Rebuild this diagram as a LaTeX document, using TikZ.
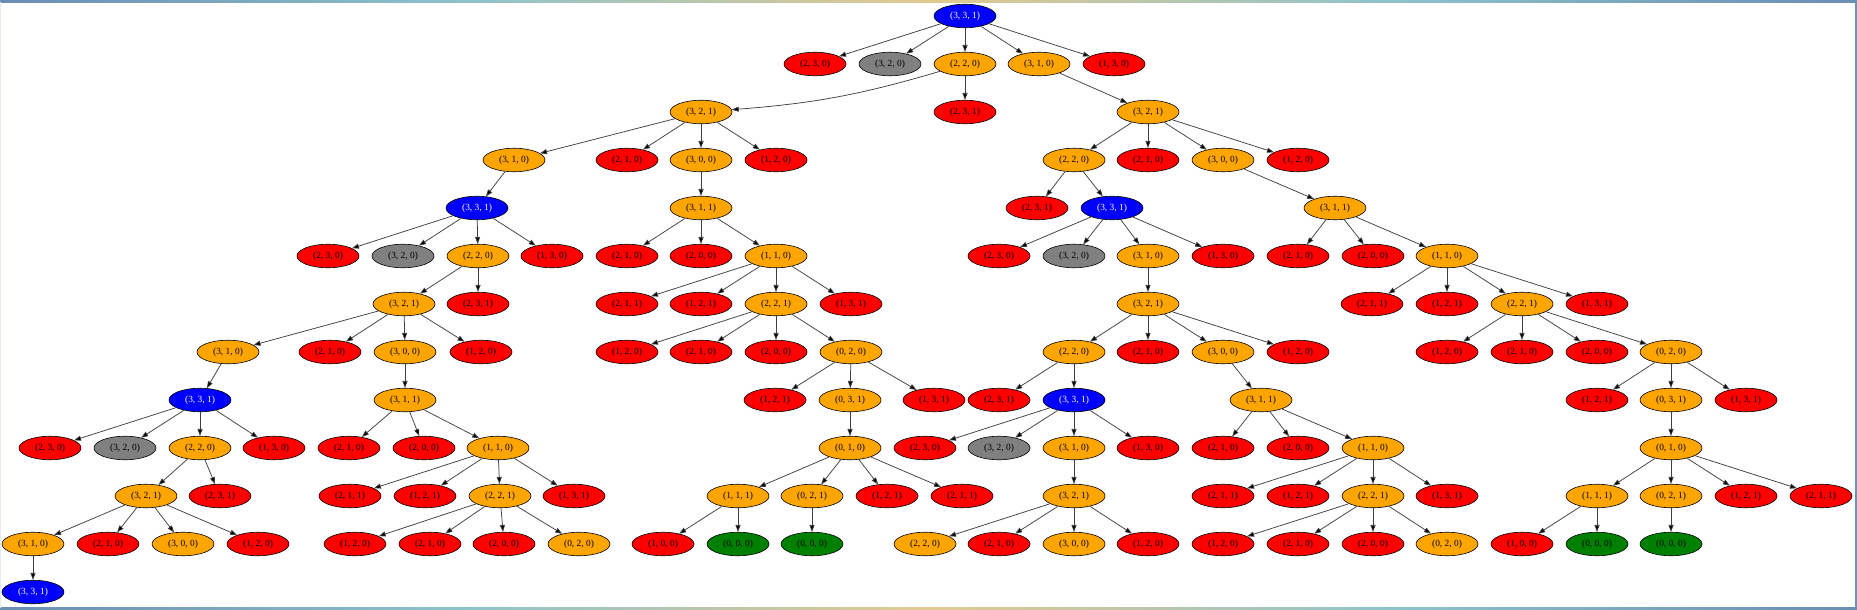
\documentclass[tikz,border=0pt]{standalone}
\usepackage{fontspec}
\setmainfont{Liberation Serif}
\usetikzlibrary{shapes.geometric,arrows.meta}
\definecolor{fA}{HTML}{6A8DB3}
\definecolor{fB}{HTML}{8EC3CB}
\definecolor{fC}{HTML}{E2C98F}
\definecolor{fL}{HTML}{E2EAF3}
\definecolor{fR}{HTML}{6B93BB}
\definecolor{cred}{HTML}{FF0000}
\definecolor{corg}{HTML}{FFA500}
\definecolor{cblu}{HTML}{0000FF}
\definecolor{cgry}{HTML}{808080}
\definecolor{cgrn}{HTML}{008000}
\tikzset{
  nbase/.style={ellipse, draw=black, line width=0.6pt, minimum width=62pt, minimum height=23.5pt, inner sep=0pt, font=\fontsize{9.4}{11}\selectfont},
  nred/.style={nbase, fill=cred},
  norg/.style={nbase, fill=corg},
  nblu/.style={nbase, fill=cblu, text=white},
  ngry/.style={nbase, fill=cgry},
  ngrn/.style={nbase, fill=cgrn},
  edge/.style={draw=black!75, line width=0.75pt, -{Triangle[length=7pt,width=5pt,fill=black]}}
}
\begin{document}
\begin{tikzpicture}[x=1pt,y=-1pt]
\useasboundingbox (0,0) rectangle (1857,610);
% frame
\shade[left color=fA, right color=fB] (0,0) rectangle (465,2.2);
\shade[left color=fB, right color=fC] (465,0) rectangle (930,2.2);
\shade[left color=fC, right color=fB] (930,0) rectangle (1395,2.2);
\shade[left color=fB, right color=fA] (1395,0) rectangle (1857,2.2);
\shade[left color=fA, right color=fB] (0,607.5) rectangle (465,610);
\shade[left color=fB, right color=fC] (465,607.5) rectangle (930,610);
\shade[left color=fC, right color=fB] (930,607.5) rectangle (1395,610);
\shade[left color=fB, right color=fA] (1395,607.5) rectangle (1857,610);
\fill[fL] (0,2.2) rectangle (1.2,607.5);
\fill[fR] (1854.8,2.2) rectangle (1857,607.5);

% level 0-2
\node[nblu] (root) at (965,16) {(3, 3, 1)};
\node[nred] (a1) at (815,64) {(2, 3, 0)};
\node[ngry] (a2) at (890,64) {(3, 2, 0)};
\node[norg] (a3) at (965,64) {(2, 2, 0)};
\node[norg] (a4) at (1039,64) {(3, 1, 0)};
\node[nred] (a5) at (1114,64) {(1, 3, 0)};
\node[norg] (b1) at (701,112) {(3, 2, 1)};
\node[nred] (b2) at (965,112) {(2, 3, 1)};
\node[norg] (b3) at (1148,112) {(3, 2, 1)};

% left branch
\node[norg] (c1) at (514,160) {(3, 1, 0)};
\node[nred] (c2) at (627,160) {(2, 1, 0)};
\node[norg] (c3) at (701,160) {(3, 0, 0)};
\node[nred] (c4) at (776,160) {(1, 2, 0)};
\node[nblu] (d1) at (477,208) {(3, 3, 1)};
\node[norg] (d2) at (701,208) {(3, 1, 1)};
\node[nred] (e1) at (328,256) {(2, 3, 0)};
\node[ngry] (e2) at (403,256) {(3, 2, 0)};
\node[norg] (e3) at (478,256) {(2, 2, 0)};
\node[nred] (e4) at (552,256) {(1, 3, 0)};
\node[nred] (e5) at (627,256) {(2, 1, 0)};
\node[nred] (e6) at (701,256) {(2, 0, 0)};
\node[norg] (e7) at (776,256) {(1, 1, 0)};
\node[norg] (f1) at (404,304) {(3, 2, 1)};
\node[nred] (f2) at (478,304) {(2, 3, 1)};
\node[nred] (f3) at (627,304) {(2, 1, 1)};
\node[nred] (f4) at (701,304) {(1, 2, 1)};
\node[norg] (f5) at (776,304) {(2, 2, 1)};
\node[nred] (f6) at (851,304) {(1, 3, 1)};
\node[norg] (g1) at (228,352) {(3, 1, 0)};
\node[nred] (g2) at (330,352) {(2, 1, 0)};
\node[norg] (g3) at (405,352) {(3, 0, 0)};
\node[nred] (g4) at (481,352) {(1, 2, 0)};
\node[nred] (g5) at (627,352) {(1, 2, 0)};
\node[nred] (g6) at (701,352) {(2, 1, 0)};
\node[nred] (g7) at (776,352) {(2, 0, 0)};
\node[norg] (g8) at (851,352) {(0, 2, 0)};
\node[nblu] (h1) at (200,400) {(3, 3, 1)};
\node[norg] (h2) at (405,400) {(3, 1, 1)};
\node[nred] (h3) at (775,400) {(1, 2, 1)};
\node[norg] (h4) at (850,400) {(0, 3, 1)};
\node[nred] (h5) at (934,400) {(1, 3, 1)};
\node[nred] (i1) at (50,448) {(2, 3, 0)};
\node[ngry] (i2) at (125,448) {(3, 2, 0)};
\node[norg] (i3) at (200,448) {(2, 2, 0)};
\node[nred] (i4) at (274,448) {(1, 3, 0)};
\node[nred] (i5) at (349,448) {(2, 1, 0)};
\node[nred] (i6) at (424,448) {(2, 0, 0)};
\node[norg] (i7) at (498,448) {(1, 1, 0)};
\node[norg] (i8) at (850,448) {(0, 1, 0)};
\node[norg] (j1) at (146,496) {(3, 2, 1)};
\node[nred] (j2) at (220,496) {(2, 3, 1)};
\node[nred] (j3) at (350,496) {(2, 1, 1)};
\node[nred] (j4) at (425,496) {(1, 2, 1)};
\node[norg] (j5) at (500,496) {(2, 2, 1)};
\node[nred] (j6) at (574,496) {(1, 3, 1)};
\node[norg] (j7) at (738,496) {(1, 1, 1)};
\node[norg] (j8) at (812,496) {(0, 2, 1)};
\node[nred] (j9) at (887,496) {(1, 2, 1)};
\node[nred] (j10) at (962,496) {(2, 1, 1)};
\node[norg] (k1) at (33,544) {(3, 1, 0)};
\node[nred] (k2) at (108,544) {(2, 1, 0)};
\node[norg] (k3) at (183,544) {(3, 0, 0)};
\node[nred] (k4) at (258,544) {(1, 2, 0)};
\node[nred] (k5) at (355,544) {(1, 2, 0)};
\node[nred] (k6) at (430,544) {(2, 1, 0)};
\node[nred] (k7) at (504,544) {(2, 0, 0)};
\node[norg] (k8) at (579,544) {(0, 2, 0)};
\node[nred] (k9) at (663,544) {(1, 0, 0)};
\node[ngrn] (k10) at (738,544) {(0, 0, 0)};
\node[ngrn] (k11) at (812,544) {(0, 0, 0)};
\node[nblu] (l1) at (33,592) {(3, 3, 1)};

% right branch
\node[norg] (C1) at (1074,160) {(2, 2, 0)};
\node[nred] (C2) at (1148,160) {(2, 1, 0)};
\node[norg] (C3) at (1223,160) {(3, 0, 0)};
\node[nred] (C4) at (1298,160) {(1, 2, 0)};
\node[nred] (D1) at (1037,208) {(2, 3, 1)};
\node[nblu] (D2) at (1112,208) {(3, 3, 1)};
\node[norg] (D3) at (1335,208) {(3, 1, 1)};
\node[nred] (E1) at (999,256) {(2, 3, 0)};
\node[ngry] (E2) at (1074,256) {(3, 2, 0)};
\node[norg] (E3) at (1148,256) {(3, 1, 0)};
\node[nred] (E4) at (1223,256) {(1, 3, 0)};
\node[nred] (E5) at (1298,256) {(2, 1, 0)};
\node[nred] (E6) at (1373,256) {(2, 0, 0)};
\node[norg] (E7) at (1447,256) {(1, 1, 0)};
\node[norg] (F1) at (1148,304) {(3, 2, 1)};
\node[nred] (F2) at (1372,304) {(2, 1, 1)};
\node[nred] (F3) at (1447,304) {(1, 2, 1)};
\node[norg] (F4) at (1522,304) {(2, 2, 1)};
\node[nred] (F5) at (1597,304) {(1, 3, 1)};
\node[norg] (G1) at (1074,352) {(2, 2, 0)};
\node[nred] (G2) at (1148,352) {(2, 1, 0)};
\node[norg] (G3) at (1223,352) {(3, 0, 0)};
\node[nred] (G4) at (1298,352) {(1, 2, 0)};
\node[nred] (G5) at (1447,352) {(1, 2, 0)};
\node[nred] (G6) at (1522,352) {(2, 1, 0)};
\node[nred] (G7) at (1597,352) {(2, 0, 0)};
\node[norg] (G8) at (1671,352) {(0, 2, 0)};
\node[nred] (H1) at (999,400) {(2, 3, 1)};
\node[nblu] (H2) at (1074,400) {(3, 3, 1)};
\node[norg] (H3) at (1261,400) {(3, 1, 1)};
\node[nred] (H4) at (1597,400) {(1, 2, 1)};
\node[norg] (H5) at (1671,400) {(0, 3, 1)};
\node[nred] (H6) at (1746,400) {(1, 3, 1)};
\node[nred] (I1) at (925,448) {(2, 3, 0)};
\node[ngry] (I2) at (999,448) {(3, 2, 0)};
\node[norg] (I3) at (1074,448) {(3, 1, 0)};
\node[nred] (I4) at (1148,448) {(1, 3, 0)};
\node[nred] (I5) at (1223,448) {(2, 1, 0)};
\node[nred] (I6) at (1298,448) {(2, 0, 0)};
\node[norg] (I7) at (1373,448) {(1, 1, 0)};
\node[norg] (I8) at (1671,448) {(0, 1, 0)};
\node[norg] (J1) at (1074,496) {(3, 2, 1)};
\node[nred] (J2) at (1223,496) {(2, 1, 1)};
\node[nred] (J3) at (1298,496) {(1, 2, 1)};
\node[norg] (J4) at (1373,496) {(2, 2, 1)};
\node[nred] (J5) at (1447,496) {(1, 3, 1)};
\node[norg] (J6) at (1597,496) {(1, 1, 1)};
\node[norg] (J7) at (1671,496) {(0, 2, 1)};
\node[nred] (J8) at (1746,496) {(1, 2, 1)};
\node[nred] (J9) at (1821,496) {(2, 1, 1)};
\node[norg] (K1) at (925,544) {(2, 2, 0)};
\node[nred] (K2) at (999,544) {(2, 1, 0)};
\node[norg] (K3) at (1074,544) {(3, 0, 0)};
\node[nred] (K4) at (1148,544) {(1, 2, 0)};
\node[nred] (K5) at (1223,544) {(1, 2, 0)};
\node[nred] (K6) at (1298,544) {(2, 1, 0)};
\node[nred] (K7) at (1373,544) {(2, 0, 0)};
\node[norg] (K8) at (1447,544) {(0, 2, 0)};
\node[nred] (K9) at (1522,544) {(1, 0, 0)};
\node[ngrn] (K10) at (1597,544) {(0, 0, 0)};
\node[ngrn] (K11) at (1671,544) {(0, 0, 0)};

% edges
\foreach \t/\h in {root/a1,root/a2,root/a3,root/a4,root/a5,a3/b2,a4/b3,
  b1/c1,b1/c2,b1/c3,b1/c4,c1/d1,c3/d2,
  d1/e1,d1/e2,d1/e3,d1/e4,d2/e5,d2/e6,d2/e7,
  e3/f1,e3/f2,e7/f3,e7/f4,e7/f5,e7/f6,
  f1/g1,f1/g2,f1/g3,f1/g4,f5/g5,f5/g6,f5/g7,f5/g8,
  g1/h1,g3/h2,g8/h3,g8/h4,g8/h5,
  h1/i1,h1/i2,h1/i3,h1/i4,h2/i5,h2/i6,h2/i7,h4/i8,
  i3/j1,i3/j2,i7/j3,i7/j4,i7/j5,i7/j6,i8/j7,i8/j8,i8/j9,i8/j10,
  j1/k1,j1/k2,j1/k3,j1/k4,j5/k5,j5/k6,j5/k7,j5/k8,j7/k9,j7/k10,j8/k11,k1/l1,
  b3/C1,b3/C2,b3/C3,b3/C4,C1/D1,C1/D2,C3/D3,
  D2/E1,D2/E2,D2/E3,D2/E4,D3/E5,D3/E6,D3/E7,
  E3/F1,E7/F2,E7/F3,E7/F4,E7/F5,
  F1/G1,F1/G2,F1/G3,F1/G4,F4/G5,F4/G6,F4/G7,F4/G8,
  G1/H1,G1/H2,G3/H3,G8/H4,G8/H5,G8/H6,
  H2/I1,H2/I2,H2/I3,H2/I4,H3/I5,H3/I6,H3/I7,H5/I8,
  I3/J1,I7/J2,I7/J3,I7/J4,I7/J5,I8/J6,I8/J7,I8/J8,I8/J9,
  J1/K1,J1/K2,J1/K3,J1/K4,J4/K5,J4/K6,J4/K7,J4/K8,J6/K9,J6/K10,J7/K11}
  {\draw[edge] (\t) -- (\h);}
\draw[edge] (a3) to[bend left=6] (b1);
\end{tikzpicture}
\end{document}
